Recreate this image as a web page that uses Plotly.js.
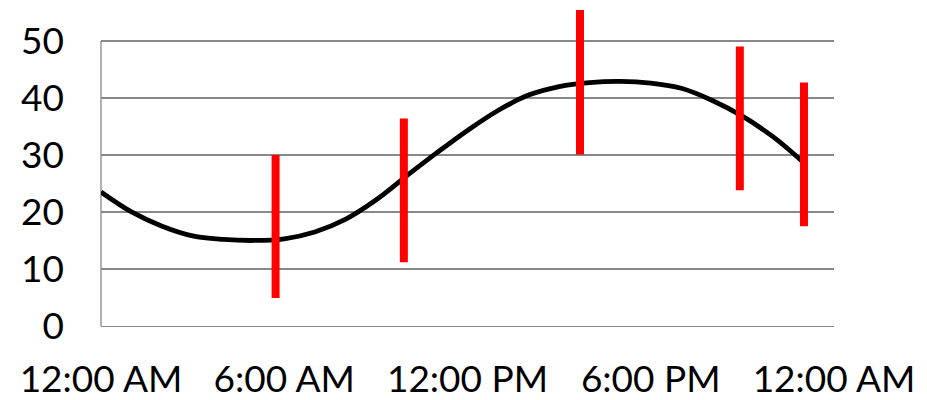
<!DOCTYPE html>
<html>
<head>
<meta charset="utf-8">
<script src="https://cdn.plot.ly/plotly-3.0.1.min.js"></script>
<style>html,body{margin:0;padding:0;background:#fff;}#chart{width:927px;height:400px;}</style>
</head>
<body>
<div id="chart"></div>
<script>
// Smooth curve: hourly readings
const curveTimes = [
  "2000-01-01 00:00","2000-01-01 01:00","2000-01-01 02:00","2000-01-01 03:00",
  "2000-01-01 04:00","2000-01-01 05:00","2000-01-01 06:00","2000-01-01 07:00",
  "2000-01-01 08:00","2000-01-01 09:00","2000-01-01 10:00","2000-01-01 11:00",
  "2000-01-01 12:00","2000-01-01 13:00","2000-01-01 14:00","2000-01-01 15:00",
  "2000-01-01 16:00","2000-01-01 17:00","2000-01-01 18:00","2000-01-01 19:00",
  "2000-01-01 20:00","2000-01-01 21:00","2000-01-01 22:00","2000-01-01 23:00"
];
const curveValues = [23.5, 20.0, 17.5, 15.8, 15.2, 15.0, 15.3, 16.5,
                     18.7, 22.1, 26.3, 30.4, 34.3, 37.8, 40.5, 42.0,
                     42.7, 42.9, 42.6, 41.7, 39.6, 36.8, 33.2, 28.7];

// Red range bars
const barTimes = ["2000-01-01 05:43","2000-01-01 09:55","2000-01-01 15:41","2000-01-01 20:55","2000-01-01 23:01"];
const barLow  = [4.9, 11.2, 30.1, 23.8, 17.5];
const barHigh = [30.0, 36.4, 55.4, 49.0, 42.7];

const yTicks = [0, 10, 20, 30, 40, 50];
const xRange = ["2000-01-01 00:00", "2000-01-02 00:00"];

// Build segments separated by nulls
const bx = [], by = [];
barTimes.forEach((t, i) => { bx.push(t, t, null); by.push(barLow[i], barHigh[i], null); });

const traces = [
  {x: curveTimes, y: curveValues, type: 'scatter', mode: 'lines',
   line: {color: '#000000', width: 4.8, shape: 'spline', smoothing: 1}, hoverinfo: 'skip'},
  {x: bx, y: by, type: 'scatter', mode: 'lines', connectgaps: false,
   line: {color: '#FF0000', width: 8}, hoverinfo: 'skip'}
];

const layout = {
  width: 927, height: 400,
  margin: {l: 101, r: 93, t: 1, b: 74},
  paper_bgcolor: '#ffffff', plot_bgcolor: '#ffffff',
  showlegend: false,
  font: {family: 'Lato, "Open Sans", sans-serif', color: '#000000', size: 37},
  xaxis: {
    type: 'date', range: xRange, dtick: 21600000, tick0: xRange[0],
    tickformat: '%-I:%M %p', showgrid: false, zeroline: false,
    showline: true, linecolor: '#888888', linewidth: 1.3,
    ticks: '', ticklabelstandoff: 20,
    tickfont: {family: 'Lato, "Open Sans", sans-serif', size: 37, color: '#000000'}
  },
  yaxis: {
    range: [0, 57], tickvals: yTicks, ticktext: yTicks.map(String),
    showgrid: true, gridcolor: '#888888', gridwidth: 1.3, zeroline: false,
    showline: false, ticks: '', ticklabelstandoff: 36,
    tickfont: {family: 'Lato, "Open Sans", sans-serif', size: 37, color: '#000000'}
  },
  shapes: [
    {type: 'line', xref: 'paper', yref: 'y', x0: 0, x1: 0, y0: yTicks[0], y1: yTicks[yTicks.length - 1],
     line: {color: '#888888', width: 1.3}, layer: 'below'}
  ]
};

Plotly.newPlot('chart', traces, layout, {staticPlot: true, displayModeBar: false});
</script>
</body>
</html>
